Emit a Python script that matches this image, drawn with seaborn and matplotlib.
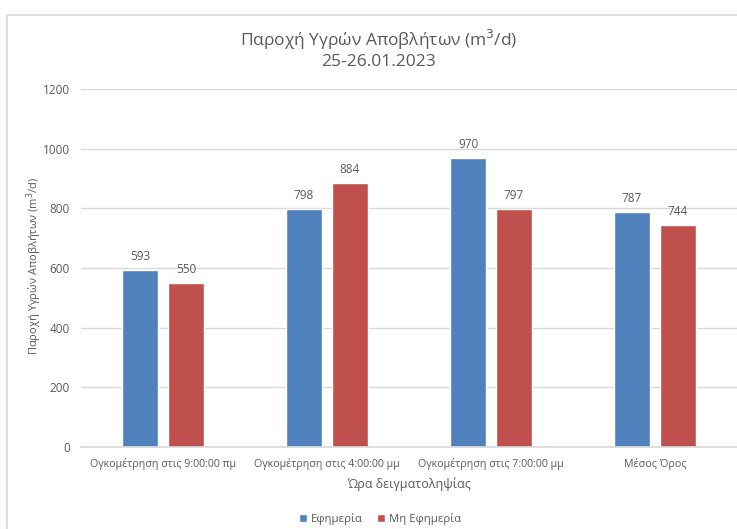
import matplotlib
matplotlib.use("Agg")
import matplotlib.pyplot as plt
import seaborn as sns
import pandas as pd
from matplotlib.patches import Rectangle

categories = ["Ογκομέτρηση στις 9:00:00 πμ", "Ογκομέτρηση στις 4:00:00 μμ",
              "Ογκομέτρηση στις 7:00:00 μμ", "Μέσος Όρος"]
series_names = ["Εφημερία", "Μη Εφημερία"]
efimeria = [593, 798, 970, 787]
mi_efimeria = [550, 884, 797, 744]
yticks = [0, 200, 400, 600, 800, 1000, 1200]

df = pd.DataFrame({
    "cat": categories * 2,
    "series": [series_names[0]] * 4 + [series_names[1]] * 4,
    "value": efimeria + mi_efimeria,
})

sns.set_theme(style="white")
plt.rcParams["font.family"] = ["Open Sans", "DejaVu Sans"]
text_color = "#595959"

W, H = 737, 529
fig = plt.figure(figsize=(W / 100, H / 100), dpi=100)
ax = fig.add_axes([81 / W, 1 - 447 / H, (737 - 81) / W, (447 - 89) / H])

colors = ["#4F81BD", "#C0504D"]
sns.barplot(data=df, x="cat", y="value", hue="series", order=categories,
            hue_order=series_names, palette=colors, width=0.56, gap=0.22,
            saturation=1, ax=ax, legend=True)

for cont in ax.containers:
    ax.bar_label(cont, padding=5, fontsize=8.5, color=text_color)

ax.set_ylim(0, 1200)
ax.set_yticks(yticks)
ax.set_xlim(-0.5, 3.5)
ax.grid(axis="y", color="#d9d9d9", linewidth=1)
ax.set_axisbelow(True)
for s in ["top", "right", "left"]:
    ax.spines[s].set_visible(False)
ax.spines["bottom"].set_color("#d9d9d9")
ax.tick_params(axis="y", length=0, labelsize=8.5, colors=text_color, pad=8)
ax.tick_params(axis="x", length=0, labelsize=7.7, colors=text_color, pad=8)
ax.set_xlabel("Ώρα δειγματοληψίας", fontsize=9, color=text_color, labelpad=5)
ax.set_ylabel("Παροχή Υγρών Αποβλήτων (m$^3$/d)", fontsize=8, color=text_color)
ax.yaxis.set_label_coords((44 - 81) / (737 - 81), (447 - 266) / (447 - 89))

fig.text(0.5 + 10 / W, 1 - 40 / H, "Παροχή Υγρών Αποβλήτων (m$^3$/d)", ha="center", va="center",
         fontsize=12.5, color=text_color)
fig.text(0.5 + 10 / W, 1 - 62 / H, "25-26.01.2023", ha="center", va="center",
         fontsize=12.5, color=text_color)

leg = ax.legend(loc="center", bbox_to_anchor=((380 - 81) / (737 - 81), (447 - 519) / (447 - 89)),
                ncol=2, frameon=False, fontsize=8.2, handlelength=0.7, handleheight=0.7,
                handletextpad=0.4, columnspacing=1.2)
for t in leg.get_texts():
    t.set_color(text_color)

fig.patches.append(Rectangle((7 / W, -0.1), 1.2, 1 - 15 / H + 0.1, transform=fig.transFigure,
                             fill=False, edgecolor="#d9d9d9", linewidth=1.2))

fig.savefig("out.png", dpi=100)
